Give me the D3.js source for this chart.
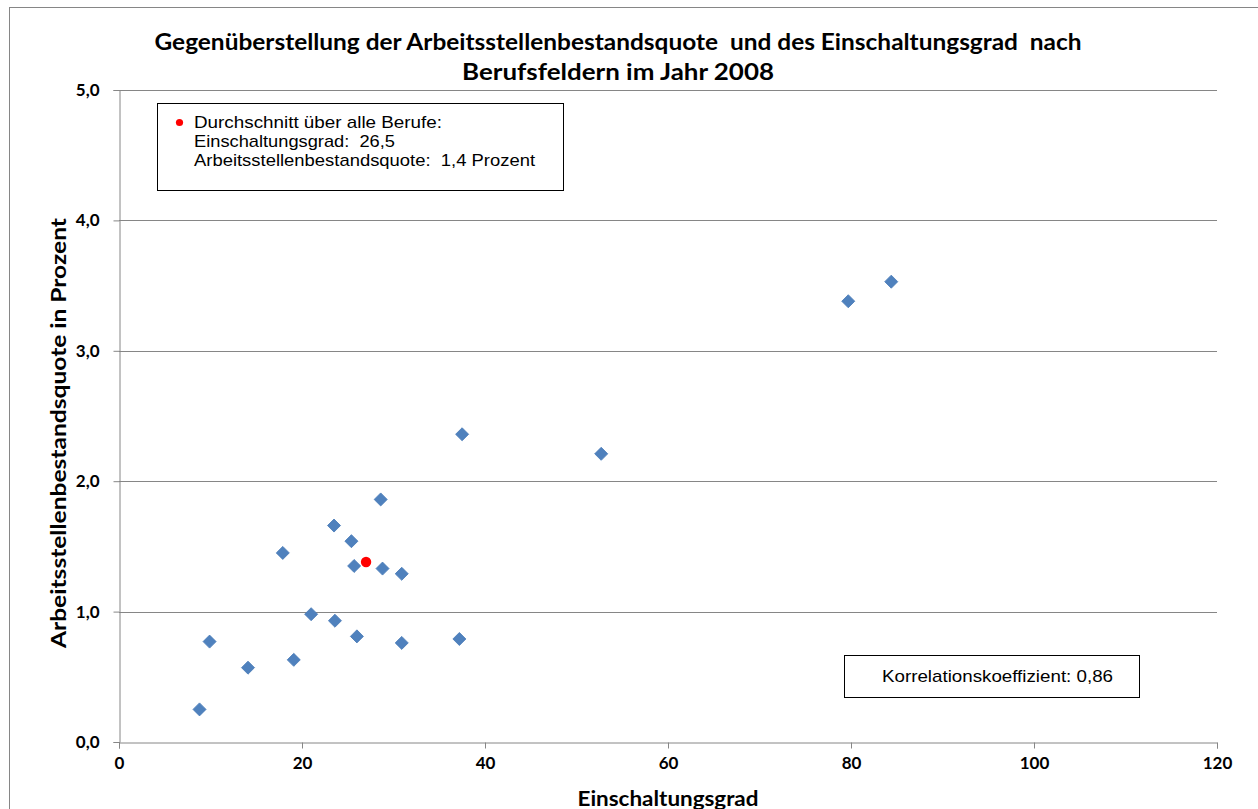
<!DOCTYPE html>
<html>
<head>
<meta charset="utf-8">
<script src="https://cdn.jsdelivr.net/npm/d3@7"></script>
<style>
  html, body { margin: 0; padding: 0; background: #fff; }
  svg { display: block; }
  text { white-space: pre; }
</style>
</head>
<body>
<svg id="chart" width="1258" height="809"></svg>
<script>
// ---- data ----
const titleLines = ["Gegenüberstellung der Arbeitsstellenbestandsquote  und des Einschaltungsgrad  nach", "Berufsfeldern im Jahr 2008"];
const xTitle = "Einschaltungsgrad";
const yTitle = "Arbeitsstellenbestandsquote in Prozent";
const einschaltungsgrad = [28.6, 23.5, 25.4, 17.9, 25.7, 28.8, 30.9, 21.0, 23.6, 9.9, 26.0, 30.9, 37.2, 14.1, 19.1, 8.8, 37.5, 52.7, 79.7, 84.4];
const bestandsquote     = [1.86, 1.66, 1.54, 1.45, 1.35, 1.33, 1.29, 0.98, 0.93, 0.77, 0.81, 0.76, 0.79, 0.57, 0.63, 0.25, 2.36, 2.21, 3.38, 3.53];
const averageX = [27.0];
const averageY = [1.38];
const xTicks = [0, 20, 40, 60, 80, 100, 120];
const yTicks = [0, 1, 2, 3, 4, 5];
const legendLines = ["Durchschnitt über alle Berufe:", "Einschaltungsgrad:  26,5", "Arbeitsstellenbestandsquote:  1,4 Prozent"];
const corrText = "Korrelationskoeffizient: 0,86";

// ---- layout ----
const svg = d3.select("#chart");
const plot = { left: 119, right: 1217, top: 90, bottom: 742 };
const x = d3.scaleLinear().domain([0, 120]).range([plot.left, plot.right]);
const y = d3.scaleLinear().domain([0, 5]).range([plot.bottom, plot.top]);
const grey = "#868686";
const boldFont = "Lato, 'Open Sans', sans-serif";
const plainFont = "'Liberation Sans', Arial, sans-serif";

// outer frame (cut at right/bottom like reference)
svg.append("rect").attr("x", 9.5).attr("y", 7.5).attr("width", 1270).attr("height", 820)
  .attr("fill", "none").attr("stroke", grey).attr("stroke-width", 1);

// title
const titleLen = [927, 312];
svg.append("g").selectAll("text").data(titleLines).join("text")
  .attr("x", 618).attr("y", (d, i) => 50 + i * 30)
  .attr("text-anchor", "middle")
  .attr("textLength", (d, i) => titleLen[i]).attr("lengthAdjust", "spacingAndGlyphs")
  .attr("font-family", boldFont).attr("font-weight", "bold").attr("font-size", 22)
  .attr("fill", "#000").text(d => d);

// gridlines
svg.append("g").selectAll("line").data(yTicks.filter(d => d > 0)).join("line")
  .attr("x1", plot.left).attr("x2", plot.right)
  .attr("y1", d => Math.round(y(d)) + 0.5).attr("y2", d => Math.round(y(d)) + 0.5)
  .attr("stroke", grey).attr("stroke-width", 1);

// axes
const xAxis = d3.axisBottom(x).tickValues(xTicks).tickSize(6).tickPadding(8)
  .tickFormat(d => d3.format("d")(d));
const gx = svg.append("g").attr("transform", `translate(0,${plot.bottom + 0.5})`).call(xAxis);
const yAxis = d3.axisLeft(y).tickValues(yTicks).tickSize(6).tickPadding(14)
  .tickFormat(d => d3.format(".1f")(d).replace(".", ","));
const gy = svg.append("g").attr("transform", `translate(${plot.left + 0.5},0)`).call(yAxis);
[gx, gy].forEach(g => {
  g.select(".domain").attr("stroke", grey);
  g.selectAll(".tick line").attr("stroke", grey);
  g.selectAll(".tick text").attr("fill", "#000")
    .attr("font-family", boldFont).attr("font-weight", "bold").attr("font-size", 17);
});

// axis titles
svg.append("text").attr("x", 668).attr("y", 806).attr("text-anchor", "middle")
  .attr("textLength", 181).attr("lengthAdjust", "spacingAndGlyphs")
  .attr("font-family", boldFont).attr("font-weight", "bold").attr("font-size", 21)
  .attr("fill", "#000").text(xTitle);
svg.append("text").attr("transform", "translate(66,433) rotate(-90)").attr("text-anchor", "middle")
  .attr("textLength", 430).attr("lengthAdjust", "spacingAndGlyphs")
  .attr("font-family", boldFont).attr("font-weight", "bold").attr("font-size", 21)
  .attr("fill", "#000").text(yTitle);

// points
const pts = einschaltungsgrad.map((v, i) => ({ x: v, y: bestandsquote[i] }));
const diamond = d3.symbol().type(d3.symbolSquare).size(85);
svg.append("g").selectAll("path").data(pts).join("path")
  .attr("d", diamond)
  .attr("transform", d => `translate(${x(d.x)},${y(d.y)}) rotate(45)`)
  .attr("fill", "#4F81BD").attr("stroke", "#4A7CB8").attr("stroke-width", 0.8);

// average point
svg.append("g").selectAll("circle").data(averageX.map((v, i) => ({ x: v, y: averageY[i] }))).join("circle")
  .attr("cx", d => x(d.x)).attr("cy", d => y(d.y)).attr("r", 5.2).attr("fill", "#FF0000");

// legend box
svg.append("rect").attr("x", 157.5).attr("y", 103.5).attr("width", 406).attr("height", 87)
  .attr("fill", "#fff").attr("stroke", "#000").attr("stroke-width", 1);
svg.append("circle").attr("cx", 179.5).attr("cy", 122.5).attr("r", 3.6).attr("fill", "#FF0000");
const legendLen = [248, 201, 341];
svg.append("g").selectAll("text").data(legendLines).join("text")
  .attr("x", 194).attr("y", (d, i) => 127.5 + i * 19.3)
  .attr("textLength", (d, i) => legendLen[i]).attr("lengthAdjust", "spacingAndGlyphs")
  .attr("font-family", plainFont).attr("font-size", 17).attr("fill", "#000").text(d => d);

// correlation box
svg.append("rect").attr("x", 844.5).attr("y", 655.5).attr("width", 295).attr("height", 42)
  .attr("fill", "#fff").attr("stroke", "#000").attr("stroke-width", 1);
svg.append("text").attr("x", 882).attr("y", 682)
  .attr("textLength", 231).attr("lengthAdjust", "spacingAndGlyphs")
  .attr("font-family", plainFont).attr("font-size", 17).attr("fill", "#000").text(corrText);
</script>
</body>
</html>
